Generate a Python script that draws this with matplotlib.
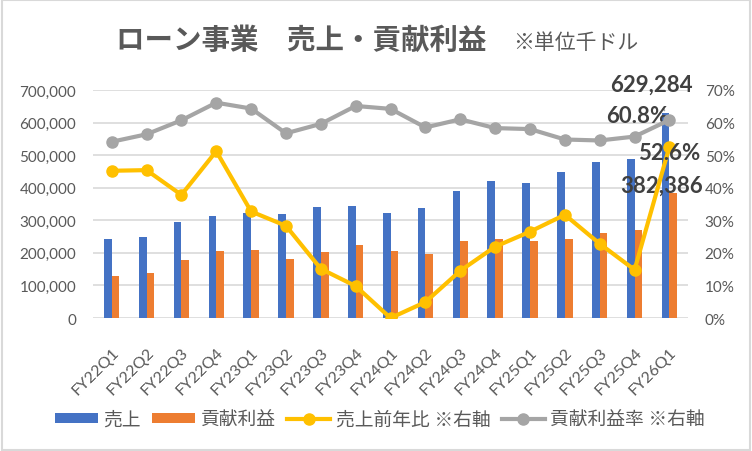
import numpy as np
import matplotlib
matplotlib.use('Agg')
import matplotlib.pyplot as plt
from matplotlib.patches import Rectangle
from matplotlib.ticker import FuncFormatter, MultipleLocator

plt.rcParams['font.family'] = ['Lato', 'Noto Sans CJK JP', 'DejaVu Sans']

quarters = ['FY22Q1', 'FY22Q2', 'FY22Q3', 'FY22Q4',
            'FY23Q1', 'FY23Q2', 'FY23Q3', 'FY23Q4',
            'FY24Q1', 'FY24Q2', 'FY24Q3', 'FY24Q4',
            'FY25Q1', 'FY25Q2', 'FY25Q3', 'FY25Q4', 'FY26Q1']

sales = [243000, 249000, 295000, 313000,
         322000, 319000, 341000, 344000,
         323000, 339000, 391000, 422000,
         413000, 447000, 480000, 487000, 629284]

profit = [130000, 139000, 179000, 206000,
          209000, 182000, 203000, 224000,
          206000, 197000, 237000, 243000,
          237000, 243000, 262000, 271000, 382386]

sales_yoy = [45.2, 45.4, 37.8, 51.2,
             32.7, 28.3, 15.1, 9.8,
             0.0, 4.9, 14.5, 21.9,
             26.5, 31.7, 22.8, 14.8, 52.6]

profit_rate = [54.1, 56.4, 60.7, 66.1,
               64.3, 56.7, 59.6, 65.1,
               64.2, 58.5, 61.0, 58.3,
               58.0, 54.8, 54.5, 55.7, 60.8]

blue = '#4472C4'
orange = '#ED7D31'
yellow = '#FFC000'
gray = '#A5A5A5'
txt = '#595959'
dark = '#404040'

fig = plt.figure(figsize=(7.52, 4.52), dpi=100)
fig.patches.append(Rectangle((0.002, 0.002), 0.996, 0.996, transform=fig.transFigure,
                             fill=False, edgecolor='#D9D9D9', linewidth=1.5))

ax = fig.add_axes([0.1237, 0.2942, 0.7913, 0.5045])
ax2 = ax.twinx()

x = np.arange(len(quarters))
w = 0.22
ax.bar(x - w / 2, sales, w, color=blue, label='売上', zorder=2)
ax.bar(x + w / 2, profit, w, color=orange, label='貢献利益', zorder=2)

ax.set_ylim(0, 700000)
ax.set_xlim(-0.535, len(quarters) - 0.465)
ax.yaxis.set_major_locator(MultipleLocator(100000))
ax.yaxis.set_major_formatter(FuncFormatter(lambda v, p: f'{int(v):,}'))
ax.grid(axis='y', color='#D9D9D9', linewidth=1.2, zorder=0)
ax.set_axisbelow(True)
ax.set_xticks(x)
ax.set_xticklabels(quarters, rotation=45, ha='right', rotation_mode='anchor')

ax2.plot(x, sales_yoy, color=yellow, linewidth=3, marker='o', markersize=8,
         label='売上前年比 ※右軸', zorder=3)
ax2.plot(x, profit_rate, color=gray, linewidth=3, marker='o', markersize=8,
         label='貢献利益率 ※右軸', zorder=4)
ax2.set_ylim(0, 70)
ax2.yaxis.set_major_locator(MultipleLocator(10))
ax2.yaxis.set_major_formatter(FuncFormatter(lambda v, p: f'{int(v)}%'))

for a in (ax, ax2):
    for s in a.spines.values():
        s.set_visible(False)
    a.tick_params(length=0, colors=txt, labelsize=11)
ax.tick_params(axis='y', pad=12)
ax.tick_params(axis='x', pad=19, labelsize=11.5)
ax2.tick_params(axis='y', pad=12)

# labels on the last quarter
last = len(quarters) - 1
lab = dict(fontsize=16, fontweight='bold', color=dark, ha='center', va='center',
           textcoords='offset pixels')
ax.annotate(f'{sales[last]:,}', xy=(last - w / 2, sales[last]), xytext=(-14, 29),
            arrowprops=dict(arrowstyle='-', color=gray, lw=1.2, shrinkA=9, shrinkB=2), **lab)
ax.annotate(f'{profit[last]:,}', xy=(last + w / 2, profit[last]), xytext=(-12, 8), **lab)
ax2.annotate(f'{profit_rate[last]}%', xy=(last, profit_rate[last]), xytext=(-32, 4), **lab)
ax2.annotate(f'{sales_yoy[last]}%', xy=(last, sales_yoy[last]), xytext=(0, -6), **lab)

fig.text(0.40, 0.912, 'ローン事業　売上・貢献利益', fontsize=20.5, fontweight='bold',
         color=txt, ha='center', va='center')
fig.text(0.683, 0.905, '※単位千ドル', fontsize=15, color=txt, ha='left', va='center')

h1, l1 = ax.get_legend_handles_labels()
h2, l2 = ax2.get_legend_handles_labels()
fig.legend(h1 + h2, l1 + l2, loc='center', bbox_to_anchor=(0.505, 0.07), ncol=4,
           frameon=False, fontsize=13.5, handlelength=2.3, handleheight=0.45,
           columnspacing=0.6, handletextpad=0.3, labelcolor=txt)

fig.savefig('out.png', dpi=100)
